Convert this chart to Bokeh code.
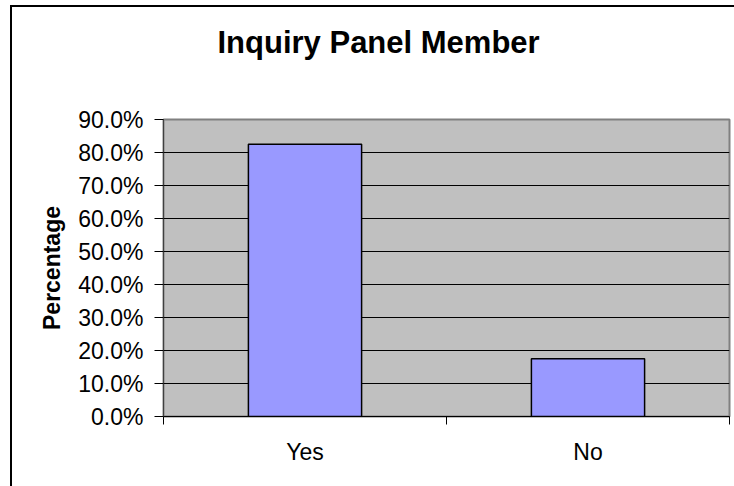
from bokeh.plotting import figure
from bokeh.models import FixedTicker, NumeralTickFormatter, Range1d, InlineStyleSheet, Title
from bokeh.embed import file_html
from bokeh.resources import INLINE

categories = ["Yes", "No"]
values = [0.825, 0.175]
y_ticks = [0.0, 0.1, 0.2, 0.3, 0.4, 0.5, 0.6, 0.7, 0.8, 0.9]
title_text = "Inquiry Panel Member"
y_label = "Percentage"

FONT = "Liberation Sans"

xs = [i + 0.5 for i in range(len(categories))]
bounds = [i for i in range(len(categories) + 1)]

frame_css = InlineStyleSheet(css="""
:host::after {
  content: "";
  position: absolute;
  left: 10px;
  top: 5px;
  width: 724px;
  height: 481px;
  box-sizing: border-box;
  border-left: 2px solid black;
  border-top: 2px solid black;
  pointer-events: none;
  z-index: 10;
}
""")

p = figure(width=734, height=486, output_backend="svg", toolbar_location=None,
           x_range=Range1d(0, len(categories)), y_range=Range1d(y_ticks[0], y_ticks[-1]),
           min_border_left=163, min_border_right=5, min_border_top=119, min_border_bottom=70,
           background_fill_color="#C0C0C0", border_fill_color="white",
           stylesheets=[frame_css])

p.vbar(x=xs, top=values, width=0.4, fill_color="#9999FF", line_color="black", line_width=1.5)

# the built-in title is left empty; a spacer and the real title are stacked above the frame
p.title.text = ""
p.title.text_font_size = "1px"
p.title.standoff = 0

spacer = Title(text=" ", text_font_size="1px", standoff=57)
p.add_layout(spacer, "above")

main_title = Title(text=title_text, align="left", offset=54, standoff=0,
                   text_font=FONT, text_font_size="31px", text_font_style="bold",
                   text_color="black")
p.add_layout(main_title, "above")

p.outline_line_color = "#808080"
p.outline_line_width = 2

p.xgrid.visible = False
p.ygrid.ticker = FixedTicker(ticks=y_ticks)
p.ygrid.grid_line_color = "black"
p.ygrid.grid_line_width = 1

ya = p.yaxis[0]
ya.ticker = FixedTicker(ticks=y_ticks)
ya.formatter = NumeralTickFormatter(format="0.0%")
ya.major_label_text_font = FONT
ya.major_label_text_font_size = "23px"
ya.major_label_text_color = "black"
ya.major_tick_out = 9
ya.major_tick_in = 0
ya.major_tick_line_color = "black"
ya.minor_tick_line_color = None
ya.axis_line_color = "#404040"
ya.axis_line_width = 1
ya.major_label_standoff = 11
ya.axis_label = y_label
ya.axis_label_text_font = FONT
ya.axis_label_text_font_size = "23px"
ya.axis_label_text_font_style = "bold"
ya.axis_label_text_color = "black"
ya.axis_label_standoff = 10

xa = p.xaxis[0]
xa.ticker = FixedTicker(ticks=xs, minor_ticks=bounds)
xa.major_label_overrides = {x: c for x, c in zip(xs, categories)}
xa.major_label_text_font = FONT
xa.major_label_text_font_size = "23px"
xa.major_label_text_color = "black"
xa.major_tick_line_color = None
xa.minor_tick_line_color = "black"
xa.minor_tick_out = 8
xa.minor_tick_in = 0
xa.axis_line_color = "black"
xa.axis_line_width = 1
xa.major_label_standoff = 14

open("out.html", "w").write(file_html(p, INLINE))
